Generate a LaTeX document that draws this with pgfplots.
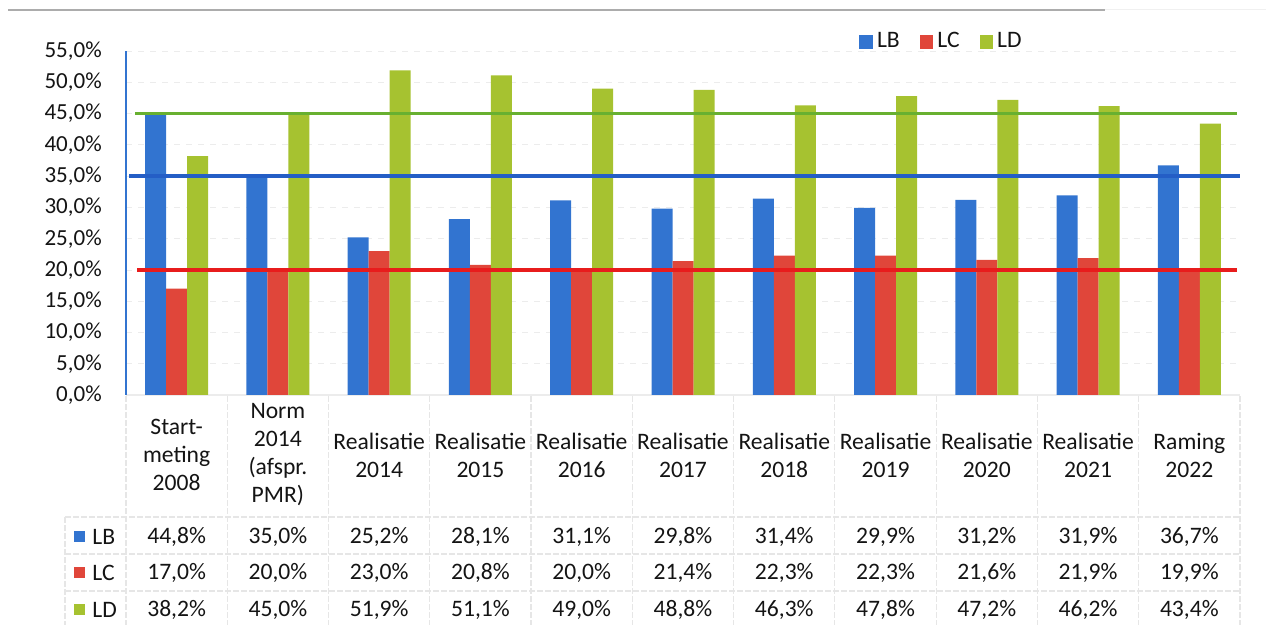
\documentclass[border=0pt]{standalone}
\usepackage{pgfplots}
\pgfplotsset{compat=1.18}
\usepackage{fontspec}
\setmainfont{Carlito}
\definecolor{cB}{RGB}{50,116,208}
\definecolor{cC}{RGB}{224,70,58}
\definecolor{cD}{RGB}{166,194,48}
\definecolor{lB}{RGB}{36,94,198}
\definecolor{lC}{RGB}{232,28,28}
\definecolor{lD}{RGB}{104,176,48}
\definecolor{txt}{RGB}{20,20,20}
\definecolor{grd}{RGB}{236,236,236}
\definecolor{tgrd}{RGB}{230,230,230}
\pgfkeys{/pgf/number format/assume math mode=true}
\begin{document}
\fontsize{11.8}{14}\selectfont
\begin{tikzpicture}
\useasboundingbox (0,0) rectangle (633pt,-312.5pt);
\begin{axis}[
  at={(63pt,-197.5pt)}, anchor=south west,
  scale only axis, width=557pt, height=172pt,
  xmin=-0.5, xmax=10.5, ymin=0, ymax=55,
  ytick={0,5,...,55}, xtick=\empty,
  major tick length=0pt,
  axis x line*=bottom, axis y line*=left,
  y axis line style={cB, line width=1pt, -},
  x axis line style={grd, line width=0.6pt, -},
  ymajorgrids, grid style={grd, dashed, line width=0.4pt},
  yticklabel={\pgfmathprintnumber[fixed,fixed zerofill,precision=1,use comma]{\tick}\%},
  yticklabel style={font=\fontsize{11.5}{14}\selectfont, text=txt, xshift=-8pt},
  legend style={at={(0.658,1.026)}, anchor=west, draw=none, fill=none,
     font=\fontsize{11.8}{14}\selectfont, text=txt, inner sep=0pt,
     /tikz/every even column/.append style={column sep=8pt}},
  legend columns=3,
  legend cell align=left,
]
\addplot[ybar, bar width=10.5pt, bar shift=-10.5pt, fill=cB, draw=none,
  legend image code/.code={\fill[cB] (0pt,-3.4pt) rectangle (6.8pt,3.4pt);}]
  coordinates {(0,44.8) (1,35.0) (2,25.2) (3,28.1) (4,31.1) (5,29.8) (6,31.4) (7,29.9) (8,31.2) (9,31.9) (10,36.7)};
\addlegendentry{LB}
\addplot[ybar, bar width=10.5pt, bar shift=0pt, fill=cC, draw=none,
  legend image code/.code={\fill[cC] (0pt,-3.4pt) rectangle (6.8pt,3.4pt);}]
  coordinates {(0,17.0) (1,20.0) (2,23.0) (3,20.8) (4,20.0) (5,21.4) (6,22.3) (7,22.3) (8,21.6) (9,21.9) (10,19.9)};
\addlegendentry{LC}
\addplot[ybar, bar width=10.5pt, bar shift=10.5pt, fill=cD, draw=none,
  legend image code/.code={\fill[cD] (0pt,-3.4pt) rectangle (6.8pt,3.4pt);}]
  coordinates {(0,38.2) (1,45.0) (2,51.9) (3,51.1) (4,49.0) (5,48.8) (6,46.3) (7,47.8) (8,47.2) (9,46.2) (10,43.4)};
\addlegendentry{LD}
\addplot[lD, line width=1.7pt, forget plot] coordinates {(-0.41,45) (10.47,45)};
\addplot[lB, line width=1.7pt, forget plot] coordinates {(-0.47,35) (10.5,35)};
\addplot[lC, line width=1.7pt, forget plot] coordinates {(-0.39,20) (10.47,20)};
\end{axis}
\begin{scope}[x=0.5pt, y=-0.5pt]
  % top scan line
  \draw[gray!65, line width=0.7pt] (8,10) -- (1105,10);
  \draw[gray!12, line width=0.5pt] (1105,10) -- (1266,10);
  % table grid
  \foreach \k in {0,...,11} {
    \draw[tgrd, line width=0.6pt, dash pattern=on 3pt off 1pt] ({126+\k*101.27},396) -- ({126+\k*101.27},625);
  }
  \draw[tgrd, line width=0.6pt, dash pattern=on 3pt off 1pt] (65,517) -- (65,625);
  \foreach \yy in {517,554,591} {
    \draw[tgrd, line width=0.6pt, dash pattern=on 3pt off 1pt] (65,\yy) -- (1240,\yy);
  }
  % header
  \foreach \i/\t in {0/{Start-\\meting\\2008}, 1/{Norm\\2014\\(afspr.\\PMR)},
     2/{Realisatie\\2014}, 3/{Realisatie\\2015}, 4/{Realisatie\\2016},
     5/{Realisatie\\2017}, 6/{Realisatie\\2018}, 7/{Realisatie\\2019},
     8/{Realisatie\\2020}, 9/{Realisatie\\2021}, 10/{Raming\\2022}} {
    \node[align=center, text=txt, inner sep=0pt, font=\fontsize{11.8}{14}\selectfont]
      at ({126+(\i+0.5)*101.27},455) {\t};
  }
  % data
  \foreach \i/\a/\b/\c in {0/44.8/17.0/38.2, 1/35.0/20.0/45.0, 2/25.2/23.0/51.9,
     3/28.1/20.8/51.1, 4/31.1/20.0/49.0, 5/29.8/21.4/48.8, 6/31.4/22.3/46.3,
     7/29.9/22.3/47.8, 8/31.2/21.6/47.2, 9/31.9/21.9/46.2, 10/36.7/19.9/43.4} {
    \node[text=txt, inner sep=0pt] at ({126+(\i+0.5)*101.27},537)
      {\pgfmathprintnumber[fixed,fixed zerofill,precision=1,use comma]{\a}\%};
    \node[text=txt, inner sep=0pt] at ({126+(\i+0.5)*101.27},573)
      {\pgfmathprintnumber[fixed,fixed zerofill,precision=1,use comma]{\b}\%};
    \node[text=txt, inner sep=0pt] at ({126+(\i+0.5)*101.27},610)
      {\pgfmathprintnumber[fixed,fixed zerofill,precision=1,use comma]{\c}\%};
  }
  % row legend keys
  \foreach \yy/\cc/\tt in {537/cB/LB, 573/cC/LC, 610/cD/LD} {
    \fill[\cc] (74,\yy-5.5) rectangle (85,\yy+5.5);
    \node[anchor=west, text=txt, inner sep=0pt] at (92,\yy) {\tt};
  }
\end{scope}
\end{tikzpicture}
\end{document}
